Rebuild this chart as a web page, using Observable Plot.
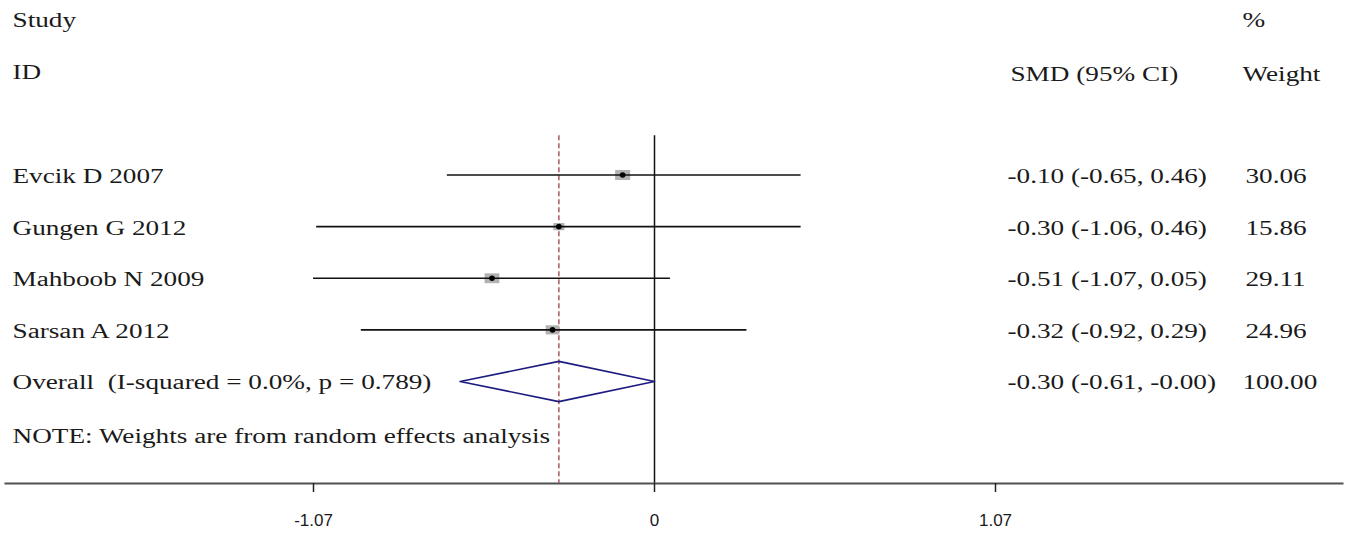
<!DOCTYPE html>
<html><head><meta charset="utf-8">
<script src="https://cdn.jsdelivr.net/npm/d3@7"></script>
<script src="https://cdn.jsdelivr.net/npm/@observablehq/plot@0.6"></script>
<style>
body{margin:0;background:#fff}
#chart svg{display:block}
</style>
</head><body><div id="chart"></div>
<script>
// ---- data ----
const studies = ["Evcik D 2007", "Gungen G 2012", "Mahboob N 2009", "Sarsan A 2012"];
const smd     = [-0.10, -0.30, -0.51, -0.32];
const lower   = [-0.65, -1.06, -1.07, -0.92];
const upper   = [ 0.46,  0.46,  0.05,  0.29];
const weights = [30.06, 15.86, 29.11, 24.96];

const overallLabel = "Overall\u00a0\u00a0(I-squared = 0.0%, p = 0.789)";
const overallSmd = -0.30;
const overallLower = -0.61;
const overallUpper = -0.00;
const overallWeight = 100.00;

const noteText = "NOTE: Weights are from random effects analysis";
const headerStudy = ["Study", "ID"];
const headerSmd = "SMD (95% CI)";
const headerWeight = ["%", "Weight"];

const xTicks = [-1.07, 0, 1.07];
const xTickLabels = ["-1.07", "0", "1.07"];

// ---- helpers ----
const f2 = v => ((v < 0 || Object.is(v, -0)) ? "-" : "") + Math.abs(v).toFixed(2);
const ciText = (e, l, u) => `${f2(e)} (${f2(l)}, ${f2(u)})`;

const rows = studies.map((s, i) => ({
  study: s, row: i, smd: smd[i], lo: lower[i], hi: upper[i], w: weights[i],
  ci: ciText(smd[i], lower[i], upper[i]), wt: weights[i].toFixed(2)
}));
const oRow = studies.length;
const overallRow = [{study: overallLabel, row: oRow, ci: ciText(overallSmd, overallLower, overallUpper), wt: overallWeight.toFixed(2)}];
const diamond = [
  {x: overallLower, y: oRow},
  {x: overallSmd, y: oRow - 0.39},
  {x: overallUpper, y: oRow},
  {x: overallSmd, y: oRow + 0.39},
  {x: overallLower, y: oRow}
];
const labelMap = new Map(xTicks.map((t, i) => [t, xTickLabels[i]]));

const box = {draw(ctx, size) {
  const w = Math.sqrt(size * 1.5), h = Math.sqrt(size / 1.5);
  ctx.rect(-w / 2, -h / 2, w, h);
}};

const serif = "Liberation Serif, Times New Roman, serif";
const txt = {fontFamily: serif, fontSize: 20, fill: "#1a1a1a", textAnchor: "start", frameAnchor: "left", className: "stretch"};
const lineTop = -0.76, lineBottom = 5.97;

const chart = Plot.plot({
  width: 1349, height: 534,
  marginTop: 0, marginLeft: 5, marginRight: 7, marginBottom: 51,
  x: {domain: [-1.07, 1.07], range: [313, 995]},
  y: {domain: [0, 4], range: [174.5, 381], axis: null},
  r: {type: "sqrt", domain: [0, 100], range: [0, 12.6]},
  style: {background: "white", color: "#1a1a1a"},
  marks: [
    Plot.frame({anchor: "bottom", stroke: "#505050", strokeWidth: 2}),
    Plot.axisX(xTicks, {tickSize: 9, tickPadding: 21, tickFormat: d => labelMap.get(d),
      fontFamily: "Liberation Sans, Arial, sans-serif", fontSize: 17, stroke: "#222", strokeWidth: 1.5, fill: "#1a1a1a"}),
    Plot.ruleX([0], {y1: lineTop, y2: lineBottom, stroke: "#111", strokeWidth: 1.5}),
    Plot.ruleX([overallSmd], {y1: lineTop, y2: lineBottom, stroke: "#a33a44", strokeWidth: 1.3, strokeDasharray: "5,3"}),
    Plot.dot(rows, {x: "smd", y: "row", r: "w", symbol: box, fill: "#b2b2b2", stroke: "none"}),
    Plot.ruleY(rows, {y: "row", x1: "lo", x2: "hi", stroke: "#111", strokeWidth: 1.6}),
    Plot.dot(rows, {x: "smd", y: "row", r: 2.8, fill: "#000", stroke: "none"}),
    Plot.line(diamond, {x: "x", y: "y", stroke: "#1c1c80", strokeWidth: 1.6, curve: "linear"}),
    // left column
    Plot.text(rows, {...txt, y: "row", text: "study", dx: 7, dy: 1.5}),
    Plot.text(overallRow, {...txt, y: "row", text: "study", dx: 7, dy: 1.5}),
    Plot.text(headerStudy, {...txt, y: (d, i) => [-3.0, -1.98][i], text: d => d, dx: 7}),
    Plot.text([noteText], {...txt, y: [5.06], text: d => d, dx: 7}),
    // SMD column
    Plot.text(rows, {...txt, y: "row", text: "ci", dx: 1002, dy: 1.5}),
    Plot.text(overallRow, {...txt, y: "row", text: "ci", dx: 1002, dy: 1.5}),
    Plot.text([headerSmd], {...txt, y: [-1.95], text: d => d, dx: 1005}),
    // Weight column
    Plot.text(rows, {...txt, y: "row", text: "wt", dx: 1240, dy: 1.5}),
    Plot.text(overallRow, {...txt, y: "row", text: "wt", dx: 1237, dy: 1.5}),
    Plot.text(headerWeight, {...txt, y: (d, i) => [-3.0, -1.95][i], text: d => d, dx: 1237})
  ]
});
document.getElementById("chart").append(chart);
// widen the serif text horizontally as in the reference
d3.select(chart).selectAll("g.stretch text").each(function() {
  const L = this.getComputedTextLength();
  this.setAttribute("textLength", (L * 1.36).toFixed(1));
  this.setAttribute("lengthAdjust", "spacingAndGlyphs");
});
</script>
</body></html>
